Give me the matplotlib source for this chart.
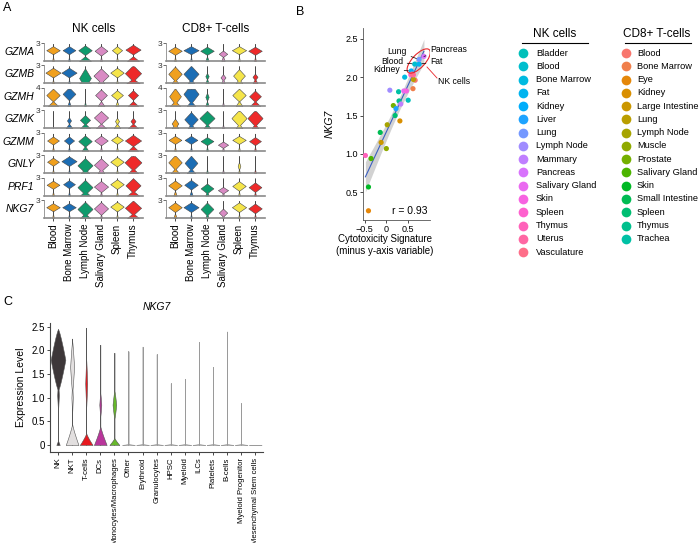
import numpy as np
import matplotlib
matplotlib.use('Agg')
import matplotlib.pyplot as plt
from matplotlib.patches import Ellipse
import matplotlib.transforms as mtransforms

plt.rcParams['font.family'] = ['Liberation Sans', 'DejaVu Sans']

# ---------------- DATA ----------------
GENES = ['GZMA', 'GZMB', 'GZMH', 'GZMK', 'GZMM', 'GNLY', 'PRF1', 'NKG7']
GENE_YMAX = [3, 3, 4, 3, 3, 3, 3, 3]
TISSUES_A = ['Blood', 'Bone Marrow', 'Lymph Node', 'Salivary Gland', 'Spleen', 'Thymus']
TISSUE_COLORS = ['#F0A01E', '#1C6DB4', '#0E9B6C', '#D98BC4', '#F5E54A', '#EE2A2A']

NK_MODE = {
    'GZMA': [1.8, 1.8, 1.8, 1.7, 1.8, 1.9], 'GZMB': [1.8, 1.8, 0.9, 1.3, 1.8, 1.7],
    'GZMH': [1.8, 2.0, 2.0, 1.8, 1.8, 1.8], 'GZMK': [1.5, 1.3, 1.4, 1.8, 1.2, 1.2],
    'GZMM': [1.7, 1.7, 1.6, 1.7, 1.8, 1.7], 'GNLY': [1.9, 2.0, 1.3, 1.4, 1.9, 1.8],
    'PRF1': [1.8, 1.9, 1.4, 1.5, 1.9, 1.7], 'NKG7': [1.8, 1.8, 1.5, 1.6, 1.9, 1.7]}
NK_WIDTH = {
    'GZMA': [0.40, 0.38, 0.40, 0.38, 0.30, 0.45], 'GZMB': [0.45, 0.45, 0.35, 0.45, 0.40, 0.48],
    'GZMH': [0.40, 0.38, 0.00, 0.35, 0.35, 0.30], 'GZMK': [0.00, 0.12, 0.30, 0.42, 0.12, 0.15],
    'GZMM': [0.35, 0.30, 0.40, 0.40, 0.35, 0.48], 'GNLY': [0.35, 0.45, 0.45, 0.42, 0.40, 0.50],
    'PRF1': [0.38, 0.35, 0.45, 0.42, 0.40, 0.45], 'NKG7': [0.40, 0.40, 0.45, 0.42, 0.40, 0.48]}
NK_SPREAD = {
    'GZMA': [0.5, 0.5, 0.6, 0.6, 0.5, 0.6], 'GZMB': [0.6, 0.6, 1.2, 0.9, 0.6, 1.0],
    'GZMH': [0.8, 0.8, 0.6, 0.7, 0.6, 0.6], 'GZMK': [0.5, 0.4, 0.6, 0.8, 0.4, 0.4],
    'GZMM': [0.5, 0.5, 0.7, 0.6, 0.5, 0.7], 'GNLY': [0.5, 0.6, 0.9, 0.8, 0.6, 1.0],
    'PRF1': [0.5, 0.5, 0.9, 0.7, 0.6, 0.9], 'NKG7': [0.5, 0.5, 0.9, 0.8, 0.6, 0.9]}
NK_BASE = {
    'GZMA': [0.05, 0.05, 0.35, 0.05, 0.05, 0.35], 'GZMB': [0.05, 0.05, 0.35, 0.20, 0.05, 0.40],
    'GZMH': [0.30, 0.10, 0.05, 0.20, 0.10, 0.30], 'GZMK': [0.00, 0.20, 0.30, 0.30, 0.20, 0.30],
    'GZMM': [0.05, 0.05, 0.20, 0.05, 0.05, 0.30], 'GNLY': [0.05, 0.05, 0.25, 0.20, 0.05, 0.30],
    'PRF1': [0.05, 0.05, 0.30, 0.05, 0.05, 0.35], 'NKG7': [0.05, 0.05, 0.30, 0.05, 0.05, 0.35]}

CD8_MODE = {
    'GZMA': [1.7, 1.8, 1.7, 1.2, 1.8, 1.7], 'GZMB': [1.6, 1.6, 1.2, 1.0, 1.3, 1.1],
    'GZMH': [1.6, 2.0, 1.5, 1.5, 1.8, 1.6], 'GZMK': [0.8, 1.5, 1.7, 1.5, 1.7, 1.7],
    'GZMM': [1.8, 1.8, 1.6, 1.0, 1.8, 1.6], 'GNLY': [1.8, 1.7, 1.5, 1.5, 1.2, 1.5],
    'PRF1': [1.7, 1.8, 1.2, 0.9, 1.6, 1.4], 'NKG7': [1.8, 1.8, 1.5, 0.9, 1.8, 1.6]}
CD8_WIDTH = {
    'GZMA': [0.40, 0.45, 0.40, 0.25, 0.42, 0.40], 'GZMB': [0.40, 0.45, 0.10, 0.15, 0.35, 0.15],
    'GZMH': [0.35, 0.45, 0.10, 0.00, 0.40, 0.35], 'GZMK': [0.20, 0.40, 0.45, 0.00, 0.45, 0.45],
    'GZMM': [0.38, 0.38, 0.38, 0.30, 0.40, 0.35], 'GNLY': [0.40, 0.38, 0.00, 0.00, 0.08, 0.00],
    'PRF1': [0.40, 0.40, 0.38, 0.30, 0.40, 0.38], 'NKG7': [0.40, 0.45, 0.38, 0.25, 0.42, 0.40]}
CD8_SPREAD = {
    'GZMA': [0.5, 0.5, 0.5, 0.4, 0.5, 0.5], 'GZMB': [0.9, 1.0, 0.4, 0.4, 0.8, 0.4],
    'GZMH': [1.0, 1.2, 0.5, 0.5, 0.8, 0.7], 'GZMK': [0.6, 0.9, 0.9, 0.5, 1.0, 1.0],
    'GZMM': [0.5, 0.5, 0.5, 0.4, 0.5, 0.5], 'GNLY': [0.9, 0.9, 0.5, 0.5, 0.5, 0.5],
    'PRF1': [0.6, 0.6, 0.6, 0.4, 0.6, 0.6], 'NKG7': [0.6, 0.6, 0.8, 0.5, 0.6, 0.6]}
CD8_BASE = {
    'GZMA': [0.05, 0.05, 0.10, 0.10, 0.05, 0.05], 'GZMB': [0.20, 0.20, 0.10, 0.10, 0.20, 0.15],
    'GZMH': [0.30, 0.25, 0.10, 0.05, 0.20, 0.30], 'GZMK': [0.20, 0.20, 0.20, 0.05, 0.20, 0.20],
    'GZMM': [0.05, 0.05, 0.05, 0.05, 0.05, 0.05], 'GNLY': [0.25, 0.25, 0.05, 0.05, 0.05, 0.05],
    'PRF1': [0.10, 0.10, 0.10, 0.05, 0.05, 0.05], 'NKG7': [0.10, 0.05, 0.10, 0.05, 0.05, 0.05]}

# Panel B: scatter
CD8_TISSUES = ['Blood', 'Bone Marrow', 'Eye', 'Kidney', 'Large Intestine', 'Lung', 'Lymph Node',
               'Muscle', 'Prostate', 'Salivary Gland', 'Skin', 'Small Intestine', 'Spleen',
               'Thymus', 'Trachea']
CD8_X = [0.66, 0.61, -0.41, 0.31, -0.12, 0.62, 0.02, 0.00, 0.16, -0.35, -0.41, -0.14, 0.20, 0.29, 0.28]
CD8_Y = [1.96, 1.85, 0.26, 1.43, 1.15, 1.97, 1.38, 1.07, 1.63, 0.94, 0.57, 1.28, 1.50, 1.69, 1.81]
NK_TISSUES = ['Bladder', 'Blood', 'Bone Marrow', 'Fat', 'Kidney', 'Liver', 'Lung', 'Lymph Node',
              'Mammary', 'Pancreas', 'Salivary Gland', 'Skin', 'Spleen', 'Thymus', 'Uterus',
              'Vasculature']
NK_X = [0.50, 0.65, 0.42, 0.75, 0.57, 0.22, 0.75, 0.08, 0.33, 0.86, 0.40, 0.46, 0.56, -0.48, 0.62, 0.59]
NK_Y = [1.70, 2.17, 2.00, 2.17, 2.08, 1.59, 2.23, 1.83, 1.65, 2.27, 1.82, 1.82, 2.03, 0.98, 2.03, 2.04]
R_TEXT = 'r = 0.93'

# Panel C
C_TYPES = ['NK', 'NKT', 'T-cells', 'DCs', 'Monocytes/Macrophages', 'Other', 'Erythroid',
           'Granulocytes', 'HPSC', 'Myeloid', 'ILCs', 'Platelets', 'B-cells',
           'Myeloid Progenitor', 'Mesenchymal Stem cells']
C_TOP = [2.45, 2.25, 2.48, 2.12, 1.95, 1.98, 2.08, 1.92, 1.30, 1.40, 2.18, 1.65, 2.40, 0.88, 0.0]
C_MODE = [1.80, 1.65, 1.30, 0.85, 0.85, 0, 0, 0, 0, 0, 0, 0, 0, 0, 0]
C_MODE_W = [0.52, 0.14, 0.07, 0.07, 0.13, 0, 0, 0, 0, 0, 0, 0, 0, 0, 0]
C_MODE_S = [0.65, 0.55, 0.50, 0.25, 0.30, 0.1, 0.1, 0.1, 0.1, 0.1, 0.1, 0.1, 0.1, 0.1, 0.1]
C_TAIL_Y = [1.05, 1.0, 0, 0, 0, 0, 0, 0, 0, 0, 0, 0, 0, 0, 0]
C_TAIL_W = [0.06, 0.05, 0, 0, 0, 0, 0, 0, 0, 0, 0, 0, 0, 0, 0]
C_BASE_W = [0.12, 0.45, 0.45, 0.45, 0.35, 0.45, 0.45, 0.45, 0.45, 0.45, 0.45, 0.45, 0.45, 0.45, 0.45]
C_BASE_S = [0.10, 0.45, 0.25, 0.40, 0.15, 0.02, 0.02, 0.02, 0.02, 0.02, 0.02, 0.02, 0.02, 0.02, 0.02]
C_COLORS = ['#3D3739', '#E2DFDF', '#E8191F', '#B9359B', '#66B82A'] + ['#9A9A9A'] * 10

# ---------------- helpers ----------------
W, H = 700, 543
fig = plt.figure(figsize=(7, 5.43), dpi=100)


def rect(x0, y0, x1, y1):
    return [x0 / W, 1 - y1 / H, (x1 - x0) / W, (y1 - y0) / H]


def hcl(h, c=100, l=65):
    hr = np.deg2rad(h)
    u, v = c * np.cos(hr), c * np.sin(hr)
    Xn, Yn, Zn = 95.047, 100.0, 108.883
    Y = Yn * ((l + 16) / 116) ** 3
    den = Xn + 15 * Yn + 3 * Zn
    un, vn = 4 * Xn / den, 9 * Yn / den
    up, vp = u / (13 * l) + un, v / (13 * l) + vn
    X = 9 * Y * up / (4 * vp)
    Z = Y * (12 - 3 * up - 20 * vp) / (4 * vp)
    X, Y, Z = X / 100, Y / 100, Z / 100
    r = 3.240479 * X - 1.537150 * Y - 0.498535 * Z
    g = -0.969256 * X + 1.875992 * Y + 0.041556 * Z
    b = 0.055648 * X - 0.204043 * Y + 1.057311 * Z
    out = []
    for ch in (r, g, b):
        ch = 12.92 * ch if ch <= 0.0031308 else 1.055 * ch ** (1 / 2.4) - 0.055
        out.append(min(max(ch, 0), 1))
    return tuple(out)


def violin(ax, x, comps, top, color, edge='#4a4a4a', lw=0.4):
    y = np.linspace(0, max(top, 1e-3), 400)
    w = np.zeros_like(y)
    for c, hw, s, p in comps:
        d = np.abs(y - c) / s
        w = np.maximum(w, hw * np.clip(1 - d, 0, None) ** p)
    ax.plot([x, x], [0, top], color='#6a6a6a', lw=0.5, zorder=1)
    ax.fill_betweenx(y, x - w, x + w, facecolor=color, edgecolor=edge, lw=lw, zorder=2)


# ---------------- Panel A ----------------
for ci, (ctitle, MODE, WID, SPR, BASE, xleft) in enumerate([
        ('NK cells', NK_MODE, NK_WIDTH, NK_SPREAD, NK_BASE, 44.2),
        ('CD8+ T-cells', CD8_MODE, CD8_WIDTH, CD8_SPREAD, CD8_BASE, 166.2)]):
    for gi, gene in enumerate(GENES):
        top_px = 43 + 22.43 * gi
        ax = fig.add_axes(rect(xleft, top_px, xleft + 99.2, top_px + 18))
        ymax = GENE_YMAX[gi]
        sc = ymax / 3
        for ti in range(len(TISSUES_A)):
            comps = [(MODE[gene][ti] * sc, WID[gene][ti] * 1.05, SPR[gene][ti] * 1.35 * sc, 1.0),
                     (0.0, BASE[gene][ti] * 1.05, 0.8 * sc, 1.0)]
            violin(ax, ti, comps, 0.95 * ymax, TISSUE_COLORS[ti])
        ax.set_xlim(-0.55, 5.65)
        ax.set_ylim(0, ymax)
        ax.set_yticks([ymax])
        ax.set_yticklabels([str(ymax)], fontsize=6)
        ax.tick_params(axis='y', length=2, width=0.5, pad=1, colors='#333333')
        for s in ['top', 'right']:
            ax.spines[s].set_visible(False)
        ax.spines['left'].set_color('#8a8a8a')
        ax.spines['left'].set_linewidth(0.6)
        ax.spines['bottom'].set_color('#8a8a8a')
        ax.spines['bottom'].set_linewidth(1.2)
        ax.patch.set_alpha(0)
        if gi == len(GENES) - 1:
            ax.set_xticks(range(len(TISSUES_A)))
            ax.set_xticklabels(TISSUES_A, rotation=90, fontsize=7)
            ax.tick_params(axis='x', length=2, width=0.5, pad=2)
        else:
            ax.set_xticks([])
        if ci == 0:
            ax.text(-0.1, 0.5, gene, transform=ax.transAxes, ha='right', va='center',
                    fontsize=7.5, style='italic')
        if gi == 0:
            ax.text(0.5, 1.0 + 14 / 18, ctitle, transform=ax.transAxes, ha='center',
                    va='center', fontsize=8.5)

# ---------------- Panel B scatter ----------------
axb = fig.add_axes(rect(363, 28, 430, 220))
all_x = np.array(CD8_X + NK_X)
all_y = np.array(CD8_Y + NK_Y)
n_all = len(CD8_TISSUES) + len(NK_TISSUES)
hues = [15 + i * 360 / n_all for i in range(n_all)]
pal = [hcl(h) for h in hues]
cd8_cols = pal[:len(CD8_TISSUES)]
nk_cols = pal[len(CD8_TISSUES):]

# linear fit with confidence band
coef = np.polyfit(all_x, all_y, 1)
xs = np.linspace(all_x.min(), all_x.max(), 100)
fit = np.polyval(coef, xs)
resid = all_y - np.polyval(coef, all_x)
n = len(all_x)
s_err = np.sqrt(np.sum(resid ** 2) / (n - 2))
sxx = np.sum((all_x - all_x.mean()) ** 2)
se = s_err * np.sqrt(1 / n + (xs - all_x.mean()) ** 2 / sxx)
axb.fill_between(xs, fit - 2.6 * se, fit + 2.6 * se, color='#C4C4C4', alpha=0.75, lw=0, zorder=1)
axb.plot(xs, fit, color='#3B5FC0', lw=0.8, zorder=2)

axb.scatter(CD8_X, CD8_Y, s=14, c=cd8_cols, lw=0, zorder=3)
axb.scatter(NK_X, NK_Y, s=14, c=nk_cols, lw=0, zorder=3)
axb.set_xlim(-0.535, 1.0)
axb.set_ylim(0.14, 2.64)
axb.set_xticks([-0.5, 0, 0.5])
axb.set_xticklabels(['\u22120.5', '0', '0.5'])
axb.set_yticks([0.5, 1.0, 1.5, 2.0, 2.5])
axb.tick_params(labelsize=6.5, length=2, width=0.5, pad=1.5)
for s in ['top', 'right']:
    axb.spines[s].set_visible(False)
for s in ['left', 'bottom']:
    axb.spines[s].set_linewidth(0.6)
    axb.spines[s].set_color('#555555')
axb.set_ylabel('NKG7', fontsize=7.5, style='italic', labelpad=8)
axb.text(0.97, 0.02, R_TEXT, transform=axb.transAxes, ha='right', va='bottom', fontsize=7.5)

# ellipse around NK cluster (size in inches, centred on a data point)
trans = fig.dpi_scale_trans + mtransforms.ScaledTranslation(0.74, 2.21, axb.transData)
ell = Ellipse((0, 0), 0.31, 0.13, angle=47, transform=trans, fill=False, ec='#E8262A', lw=0.8, zorder=4)
axb.add_patch(ell)


def lab(name, tx, ty, ha):
    i = NK_TISSUES.index(name)
    xy = (NK_X[i], NK_Y[i])
    axb.annotate(name, xy=xy, xytext=(tx, H - ty), textcoords='figure pixels', ha=ha,
                 va='center', fontsize=6.2,
                 arrowprops=dict(arrowstyle='-', lw=0.5, color='black', shrinkA=1, shrinkB=2),
                 annotation_clip=False, zorder=5)


lab('Lung', 407, 51.5, 'right')
lab('Pancreas', 430, 49, 'left')
lab('Blood', 403, 61.5, 'right')
lab('Kidney', 400, 69.5, 'right')
lab('Fat', 430, 62, 'left')

# overlay for free text
ov = fig.add_axes([0, 0, 1, 1])
ov.set_xlim(0, W)
ov.set_ylim(H, 0)
ov.axis('off')
ov.plot([427, 437], [67, 78], color='#E8262A', lw=0.6)
ov.text(438, 81, 'NK cells', fontsize=6.2, ha='left', va='center')
ov.text(385, 245, 'Cytotoxicity Signature\n(minus y-axis variable)', fontsize=7,
        ha='center', va='center', linespacing=1.25)

# panel labels
ov.text(3, 8, 'A', fontsize=9, va='center')
ov.text(296, 12, 'B', fontsize=9, va='center')
ov.text(3, 302, 'C', fontsize=9, va='center')

# legend
for title, names, cols, cx, x0, x1, mx, tx in [
        ('NK cells', NK_TISSUES, nk_cols, 555, 522, 588, 523, 536),
        ('CD8+ T-cells', CD8_TISSUES, cd8_cols, 657, 625, 691, 626, 637)]:
    ov.text(cx, 34, title, fontsize=8.5, ha='center', va='center')
    ov.plot([x0, x1], [43, 43], color='black', lw=0.8)
    for k, (nm, col) in enumerate(zip(names, cols)):
        yy = 53 + 13.27 * k
        ov.plot([mx], [yy], 'o', ms=7, color=col, mew=0)
        ov.text(tx, yy, nm, fontsize=6.7, ha='left', va='center')

# ---------------- Panel C ----------------
axc = fig.add_axes(rect(50, 323, 263, 452))
for i in range(len(C_TYPES)):
    comps = [(C_MODE[i], C_MODE_W[i], C_MODE_S[i], 0.8),
             (C_TAIL_Y[i], C_TAIL_W[i], 0.35, 1.0),
             (0.0, C_BASE_W[i], C_BASE_S[i], 1.2)]
    edge = '#555555' if i < 5 else '#9A9A9A'
    violin(axc, i, comps, C_TOP[i], C_COLORS[i], edge=edge, lw=0.4)
axc.set_xlim(-0.57, 14.55)
axc.set_ylim(-0.15, 2.58)
axc.set_xticks(range(len(C_TYPES)))
axc.set_xticklabels(C_TYPES, rotation=90, fontsize=5.6)
axc.set_yticks([0, 0.5, 1.0, 1.5, 2.0, 2.5])
axc.set_yticklabels(['0', '0.5', '1.0', '1.5', '2.0', '2.5'])
axc.tick_params(axis='y', labelsize=7, length=2, width=0.5, pad=1.5)
axc.tick_params(axis='x', length=2, width=0.5, pad=2)
for s in ['top', 'right']:
    axc.spines[s].set_visible(False)
for s in ['left', 'bottom']:
    axc.spines[s].set_linewidth(0.8)
    axc.spines[s].set_color('#444444')
axc.set_ylabel('Expression Level', fontsize=7.5, labelpad=4)
axc.set_title('NKG7', fontsize=7.5, style='italic', pad=9)

fig.savefig('out.png', dpi=100)
